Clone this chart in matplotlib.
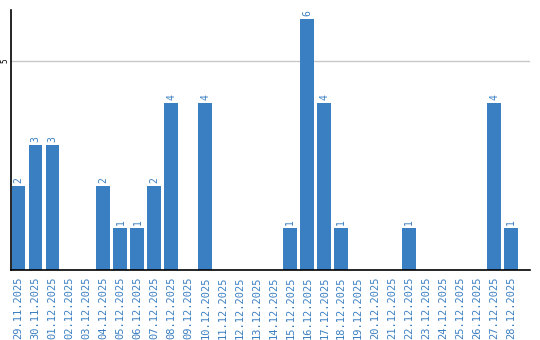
import matplotlib
matplotlib.use('Agg')
import matplotlib.pyplot as plt
import numpy as np

dates = ['29.11.2025', '30.11.2025', '01.12.2025', '02.12.2025', '03.12.2025',
         '04.12.2025', '05.12.2025', '06.12.2025', '07.12.2025', '08.12.2025',
         '09.12.2025', '10.12.2025', '11.12.2025', '12.12.2025', '13.12.2025',
         '14.12.2025', '15.12.2025', '16.12.2025', '17.12.2025', '18.12.2025',
         '19.12.2025', '20.12.2025', '21.12.2025', '22.12.2025', '23.12.2025',
         '24.12.2025', '25.12.2025', '26.12.2025', '27.12.2025', '28.12.2025']
counts = [2, 3, 3, 0, 0, 2, 1, 1, 2, 4, 0, 4, 0, 0, 0,
          0, 1, 6, 4, 1, 0, 0, 0, 1, 0, 0, 0, 0, 4, 1]

blue = '#3a7fc2'

fig = plt.figure(figsize=(5.4, 3.4), dpi=100)
ax = fig.add_axes([0.0195, 0.206, 0.9615, 0.765])

x = np.arange(len(dates))
ax.bar(x, counts, width=0.82, color=blue, zorder=2)
for xi, c in zip(x, counts):
    if c > 0:
        ax.text(xi, c + 0.07, str(c), rotation=90, ha='center', va='bottom',
                color=blue, fontsize=7, family='DejaVu Sans Mono')

ax.set_xlim(-0.47, len(dates) + 0.1)
ax.set_ylim(0, 6.22)
ax.set_yticks([5])
ax.set_yticklabels(['5'], rotation=90, va='center', fontsize=5.5,
                   family='DejaVu Sans Mono')
ax.tick_params(axis='y', length=0, pad=1)
ax.yaxis.grid(True, color='#c8c8c8', linewidth=1, zorder=0)
ax.set_axisbelow(True)

ax.set_xticks(x)
ax.set_xticklabels(dates, rotation=90, fontsize=7.5, color=blue,
                   family='DejaVu Sans Mono')
ax.tick_params(axis='x', length=0, pad=5)

for s in ['top', 'right']:
    ax.spines[s].set_visible(False)
ax.spines['left'].set_linewidth(1.2)
ax.spines['bottom'].set_linewidth(1.2)

plt.savefig('out.png', dpi=100)
